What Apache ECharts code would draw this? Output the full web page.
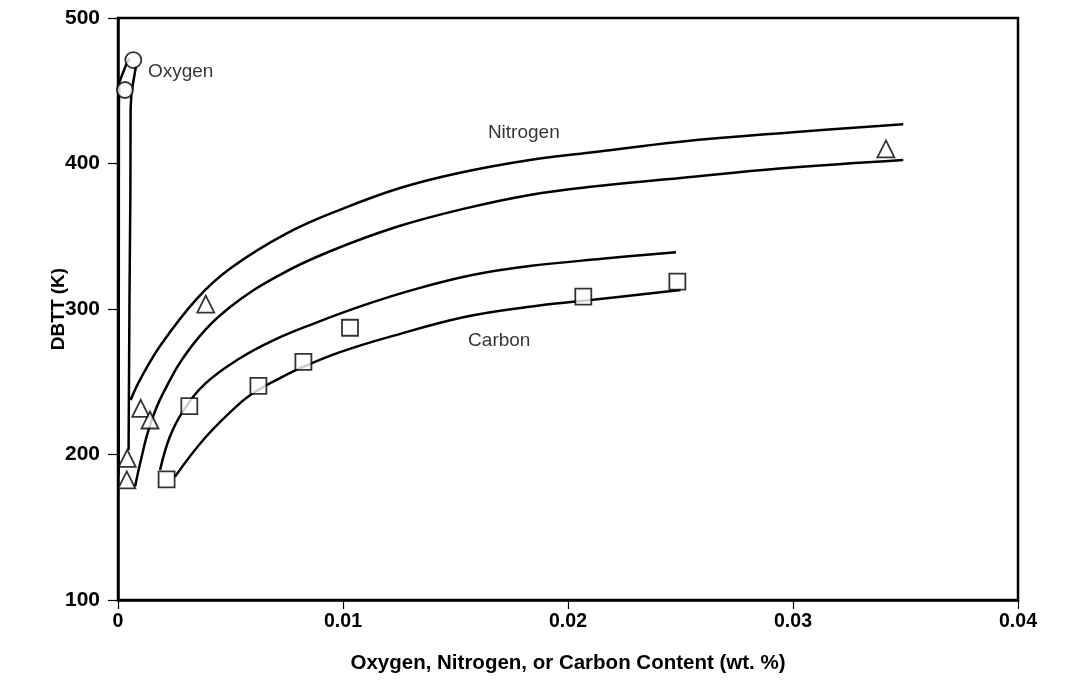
<!DOCTYPE html>
<html><head><meta charset="utf-8">
<script src="https://cdn.jsdelivr.net/npm/echarts@6/dist/echarts.min.js"></script>
<style>html,body{margin:0;padding:0;background:#fff}#c{width:1070px;height:685px}</style>
</head><body><div id="c"></div>
<script>
// Axis ticks
const xTicks = [0, 0.01, 0.02, 0.03, 0.04];
const yTicks = [100, 200, 300, 400, 500];

// Measured data points
const oxygenPoints   = [[0.00031,450.5],[0.00068,471.1]];
const nitrogenPoints = [[0.00039,182.5],[0.00041,197.4],[0.00101,231.7],[0.00142,223.7],[0.0039,303.4],[0.03413,410]];
const carbonPoints   = [[0.00216,182.9],[0.00317,233.3],[0.00624,247.1],[0.00824,263.6],[0.01031,287.1],[0.02068,308.5],[0.02486,318.8]];

// Band boundary curves
const oxygenLeft  = [[0.00003,185],[0.00004,440],[0.00006,456],[0.00039,469],[0.00052,472]];
const oxygenRight = [[0.00047,203],[0.00051,306],[0.00055,380],[0.00056,437],[0.0006,449],[0.0008,467]];
const nitrogenUpper = [[0.00056,237.5],[0.001,252],[0.0019,275.3],[0.0035,307],[0.005,328],[0.0075,352],[0.01,369],[0.0125,383],[0.015,393],[0.0183,402.4],[0.021,407.5],[0.025,415],[0.03,421.5],[0.0349,427]];
const nitrogenLower = [[0.00076,178],[0.001,195],[0.0014,219],[0.002,242],[0.0033,275],[0.005,301.5],[0.0072,323.5],[0.0094,339.5],[0.0124,356.5],[0.0154,369],[0.0183,378.4],[0.021,384],[0.025,390],[0.0294,396.5],[0.0349,402.4]];
const carbonUpper = [[0.00187,189.4],[0.0023,212],[0.0029,230],[0.0039,249],[0.0054,266],[0.0069,278.5],[0.0087,290],[0.0109,302.5],[0.0133,314],[0.0158,323.5],[0.0183,329.5],[0.0215,334.5],[0.0248,339]];
const carbonLower = [[0.00253,184.7],[0.0039,212],[0.0054,235],[0.0062,244],[0.0072,252.5],[0.0082,260],[0.0099,270.5],[0.0121,281],[0.0154,294.5],[0.0183,301.6],[0.0209,306],[0.025,313]];

// Curve labels
const curveLabels = [
  {text:'Oxygen',   x:0.00133, y:463},
  {text:'Nitrogen', x:0.01644, y:421},
  {text:'Carbon',   x:0.01556, y:278}
];

const axisFont = "'Liberation Sans',Arial,sans-serif";
const labelFont = "'Liberation Sans',Arial,sans-serif";

const chart = echarts.init(document.getElementById('c'), null, {renderer:'canvas'});

const lineStyle = {color:'#000', width:2.5};
function curve(name, data, smooth){
  return {name, type:'line', data, smooth,
    showSymbol:false, symbol:'none', lineStyle, z:2, silent:true, animation:false};
}
function markers(name, data, symbol, size){
  return {name, type:'scatter', data, symbol, symbolSize:size, z:5, animation:false,
    itemStyle:{color:'#fff', borderColor:'#000', borderWidth:1.8}};
}

chart.setOption({
  animation:false,
  backgroundColor:'#fff',
  grid:{left:118, right:52, top:18, bottom:85, show:true, borderColor:'#000', borderWidth:2.5, backgroundColor:'transparent'},
  xAxis:{
    type:'value', min:xTicks[0], max:xTicks[xTicks.length-1], interval:0.01,
    name:'Oxygen, Nitrogen, or Carbon Content (wt. %)', nameLocation:'middle', nameGap:53, nameMoveOverlap:false,
    nameTextStyle:{fontFamily:axisFont, fontWeight:'bold', fontSize:20.5, color:'#000'},
    axisLine:{lineStyle:{color:'#000', width:2.5}},
    axisTick:{length:9, lineStyle:{color:'#000', width:1.2}},
    axisLabel:{margin:12, fontFamily:axisFont, fontWeight:'bold', fontSize:19.5, color:'#000',
      formatter:v=>String(+v.toFixed(2))},
    splitLine:{show:false}
  },
  yAxis:{
    type:'value', min:yTicks[0], max:yTicks[yTicks.length-1], interval:100,
    name:'DBTT (K)', nameLocation:'middle', nameGap:50, nameRotate:90, nameMoveOverlap:false,
    nameTextStyle:{fontFamily:axisFont, fontWeight:'bold', fontSize:19, color:'#000'},
    axisLine:{lineStyle:{color:'#000', width:2.5}},
    axisTick:{length:10, lineStyle:{color:'#000', width:1.2}},
    axisLabel:{margin:18, fontFamily:axisFont, fontWeight:'bold', fontSize:21, color:'#000'},
    splitLine:{show:false}
  },
  series:[
    curve('O-left', oxygenLeft, false),
    curve('O-right', oxygenRight, false),
    curve('N-upper', nitrogenUpper, 0.4),
    curve('N-lower', nitrogenLower, 0.4),
    curve('C-upper', carbonUpper, 0.4),
    curve('C-lower', carbonLower, 0.4),
    markers('Oxygen', oxygenPoints, 'circle', 16),
    markers('Nitrogen', nitrogenPoints, 'triangle', 17),
    markers('Carbon', carbonPoints, 'rect', 16),
    {type:'scatter', symbolSize:0, z:6, animation:false, silent:true,
     data: curveLabels.map(l=>({value:[l.x,l.y], name:l.text})),
     label:{show:true, position:'right', distance:0, formatter:p=>p.name,
       fontFamily:labelFont, fontSize:19, color:'#000'}}
  ]
});
</script>
</body></html>
